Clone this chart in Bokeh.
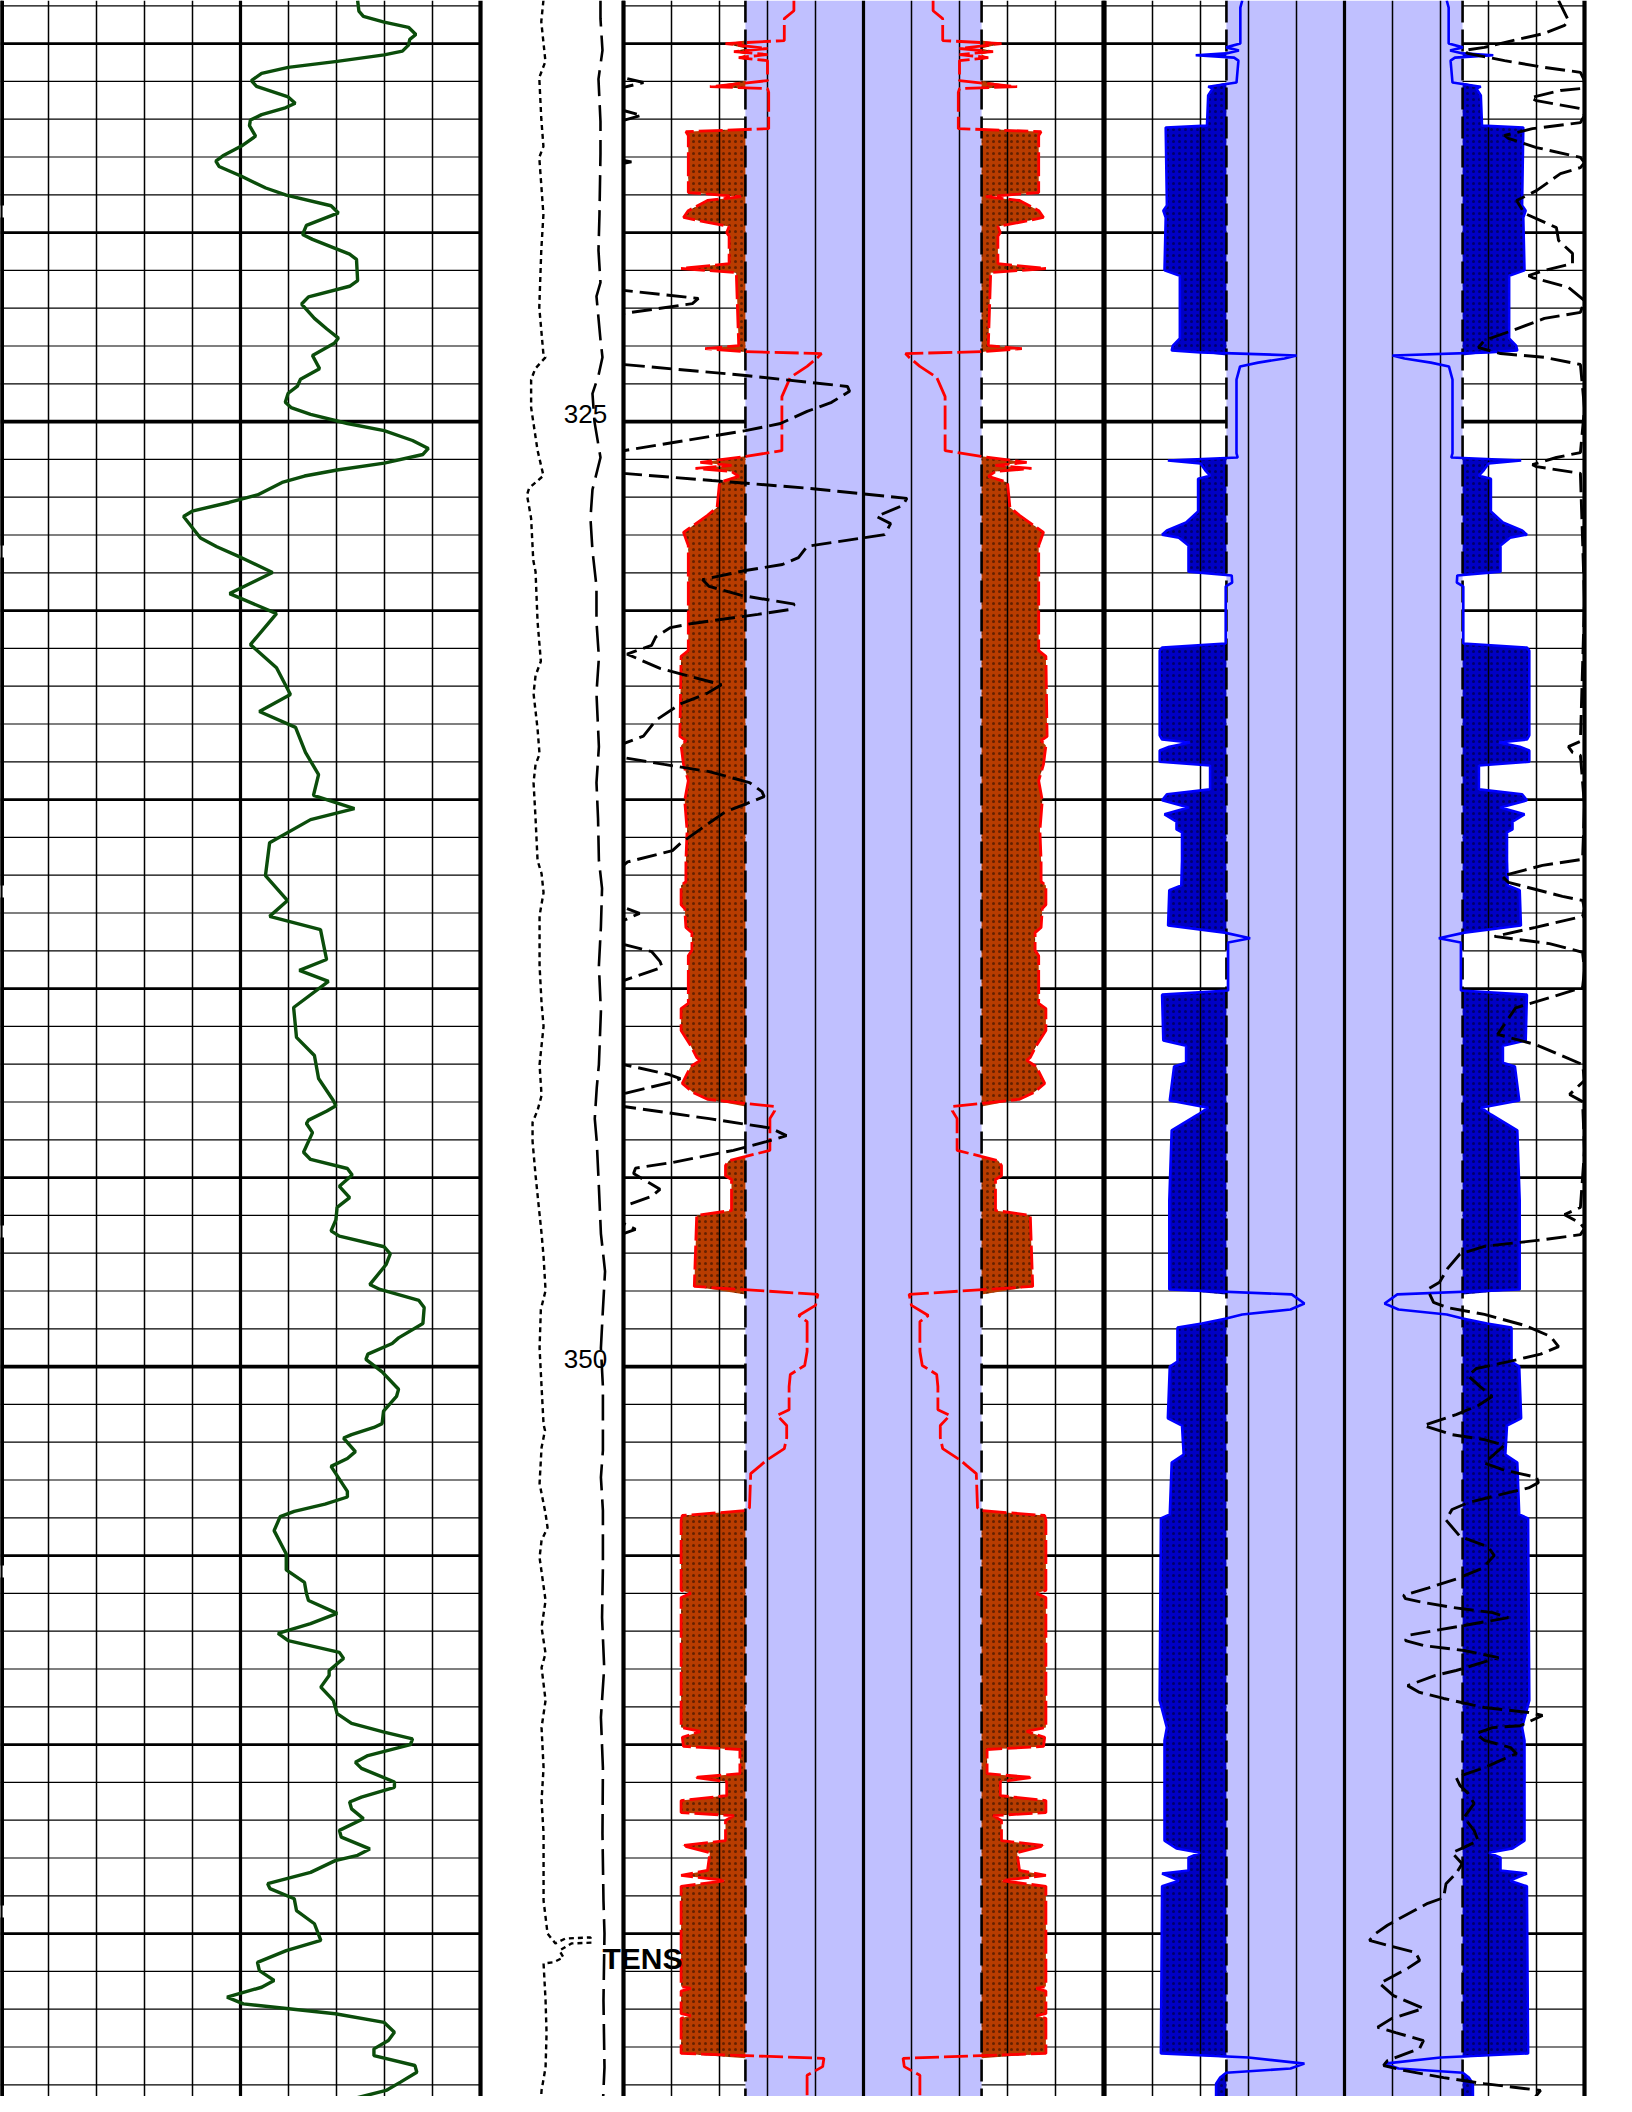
import numpy as np
from bokeh.plotting import figure
from bokeh.models import Range1d
from bokeh.embed import file_html
from bokeh.resources import INLINE
from bokeh.core.properties import value

# ============================ DATA ============================
# Track 1 : gamma ray (0 - 150)
gr_depth = [313.86, 314.14, 314.28, 314.43, 314.57, 314.76, 314.89, 315.04, 315.20, 315.30,
            315.47, 315.63, 315.79, 315.98, 316.13, 316.41, 316.58, 316.71, 316.88, 317.02,
            317.17, 317.45, 317.71, 317.97, 318.11, 318.25, 318.51, 318.82, 319.01, 319.29,
            319.48, 319.81, 320.05, 320.18, 320.57, 320.71, 321.27, 321.42, 321.70, 321.89,
            322.27, 322.55, 322.79, 322.93, 323.25, 323.60, 323.88, 324.06, 324.25, 324.49,
            324.63, 324.81, 325.05, 325.24, 325.50, 325.71, 325.87, 326.10, 326.28, 326.44,
            326.61, 326.94, 327.14, 327.37, 327.51, 327.80, 328.08, 328.31, 328.60, 328.99,
            329.55, 330.08, 330.90, 331.51, 332.22, 332.67, 333.09, 333.75, 334.34, 334.89,
            335.24, 335.53, 336.14, 337.01, 337.67, 338.09, 338.44, 339.23, 339.52, 339.81,
            340.50, 341.29, 341.77, 342.38, 342.96, 343.10, 343.24, 343.48, 343.57, 343.81,
            344.33, 344.52, 344.76, 344.93, 345.23, 345.53, 345.79, 346.12, 346.41, 346.55,
            346.83, 347.02, 347.30, 347.83, 347.96, 348.25, 348.44, 348.86, 349.24, 349.39,
            349.67, 349.81, 350.14, 350.60, 350.79, 351.18, 351.51, 351.61, 351.80, 351.89,
            352.25, 352.43, 352.64, 353.30, 353.45, 353.64, 353.83, 353.97, 354.34, 354.96,
            355.38, 355.71, 356.00, 356.19, 356.53, 356.80, 357.06, 357.25, 357.56, 357.72,
            358.04, 358.17, 358.48, 358.83, 359.18, 359.44, 359.67, 359.85, 360.00, 360.29,
            360.47, 360.63, 360.99, 361.13, 361.39, 361.52, 361.70, 361.96, 362.27, 362.45,
            362.76, 362.93, 363.07, 363.38, 363.68, 363.81, 364.08, 364.39, 364.74, 365.18,
            365.45, 365.76, 365.98, 366.24, 366.42, 366.68, 366.86, 367.12, 367.35, 367.61,
            367.83, 368.05, 368.23, 368.49, 368.67, 368.93, 369.15, 369.46, 369.68]
gr_value = [111.6, 112.0, 113.4, 119.9, 127.5, 129.8, 127.9, 127.5, 125.6, 119.9,
            105.2, 89.9, 81.6, 78.4, 80.0, 89.9, 92.1, 88.7, 81.6, 78.1,
            77.8, 79.7, 75.3, 69.5, 67.3, 68.3, 75.3, 82.9, 89.3, 103.3,
            105.6, 95.6, 94.4, 97.5, 109.1, 111.25, 111.6, 109.1, 96.25, 94.1,
            98.1, 102.0, 105.6, 104.3, 97.5, 99.7, 93.75, 92.8, 89.9, 89.0,
            90.8, 96.9, 108.4, 119.9, 128.75, 133.7, 132.0, 119.9, 105.2, 95.0,
            88.0, 80.3, 71.4, 59.9, 57.2, 59.9, 62.5, 67.6, 75.3, 85.0,
            71.6, 86.25, 78.1, 86.25, 90.6, 80.9, 92.2, 95.3, 99.4, 97.8,
            110.6, 96.9, 84.1, 82.8, 89.7, 84.1, 100.0, 101.9, 93.4, 102.5,
            91.6, 92.5, 98.1, 99.4, 104.0, 104.8, 102.0, 96.25, 95.6, 97.5,
            94.7, 96.9, 108.4, 109.9, 105.9, 109.1, 105.2, 104.8, 103.3, 105.9,
            119.9, 121.8, 120.5, 115.4, 118.6, 130.75, 132.4, 132.0, 124.4, 122.4,
            114.8, 114.2, 119.25, 124.4, 123.75, 119.7, 119.25, 116.7, 109.7, 107.2,
            110.9, 108.4, 103.3, 108.4, 108.4, 101.4, 91.8, 87.4, 85.5, 89.3,
            89.3, 95.0, 95.6, 96.25, 105.2, 96.9, 86.75, 89.9, 105.9, 107.2,
            102.7, 102.7, 100.1, 104.0, 105.2, 109.7, 119.9, 128.75, 128.1, 114.8,
            110.9, 112.8, 123.1, 123.1, 112.8, 109.1, 109.7, 113.4, 105.9, 106.5,
            115.4, 111.6, 104.6, 96.9, 83.5, 84.2, 91.8, 92.5, 98.1, 100.1,
            89.3, 80.3, 80.9, 85.5, 81.6, 70.8, 75.9, 104.6, 119.9, 123.1,
            121.2, 116.7, 116.7, 129.5, 130.1, 125.0, 120.5, 105.9, 102.7]

# Track 1 : a second curve pegged at the left edge of the track
edge_depth = [313.86, 369.73]
edge_value = [0.0, 0.0]

# Track 2 : red curve, radius from the track centre (mirrored image)
t2_depth = [313.86, 314.13, 314.34, 314.92, 315.00, 315.13, 315.21, 315.29, 315.37, 315.45,
            315.98, 316.14, 316.19, 316.29, 317.25, 317.33, 317.43, 318.94, 319.05, 319.15,
            319.42, 319.60, 319.73, 319.84, 320.00, 320.10, 320.82, 320.95, 321.06, 322.99,
            323.07, 323.15, 323.20, 323.30, 323.54, 323.83, 324.34, 325.77, 325.92, 326.08,
            326.16, 326.24, 326.32, 326.45, 326.61, 327.27, 327.48, 327.75, 327.93, 328.28,
            329.18, 331.06, 331.21, 333.33, 333.44, 333.57, 334.07, 334.50, 335.02, 335.82,
            336.61, 337.17, 337.27, 337.78, 337.88, 338.38, 338.52, 338.99, 339.13, 340.39,
            340.53, 341.11, 341.51, 341.82, 341.90, 342.06, 342.51, 342.75, 342.93, 343.12,
            343.23, 343.44, 344.28, 344.44, 344.55, 344.68, 344.95, 345.05, 345.87, 346.00,
            347.88, 348.09, 348.38, 348.65, 348.81, 349.60, 349.97, 350.21, 350.53, 351.14,
            351.29, 351.56, 351.88, 352.17, 352.48, 352.62, 352.83, 353.73, 353.81, 353.94,
            354.07, 355.92, 356.00, 356.11, 359.55, 359.65, 359.81, 360.05, 360.13, 360.77,
            360.87, 360.98, 361.35, 361.48, 361.80, 361.88, 362.01, 362.54, 362.67, 362.86,
            363.33, 363.46, 363.60, 363.75, 366.40, 366.45, 366.52, 367.12, 367.17, 367.24,
            368.17, 368.30, 368.52, 368.75, 369.73]
t2_radius = [2.9, 2.9, 3.3, 3.3, 5.75, 4.0, 5.4, 4.0, 5.2, 4.0,
             4.0, 6.4, 4.0, 3.95, 3.95, 7.4, 7.3, 7.3, 5.1, 6.5,
             7.3, 7.5, 6.5, 5.6, 5.7, 5.6, 5.6, 7.6, 5.3, 5.2,
             6.6, 5.0, 1.75, 1.9, 2.35, 3.05, 3.4, 3.4, 4.9, 6.8,
             5.5, 7.0, 5.5, 5.2, 6.0, 6.1, 6.5, 7.1, 7.5, 7.3,
             7.3, 7.3, 7.6, 7.65, 7.4, 7.6, 7.5, 7.3, 7.45, 7.35,
             7.4, 7.4, 7.6, 7.6, 7.45, 7.4, 7.15, 7.15, 7.3, 7.3,
             7.6, 7.6, 7.2, 6.95, 6.8, 7.2, 7.55, 7.1, 6.5, 3.7,
             3.7, 3.9, 3.9, 4.9, 5.6, 5.75, 5.75, 5.5, 5.5, 6.95,
             7.05, 1.9, 2.0, 2.7, 2.35, 2.35, 2.45, 3.05, 3.1, 3.1,
             3.6, 3.2, 3.2, 3.3, 4.05, 4.3, 4.7, 4.75, 4.9, 7.55,
             7.6, 7.6, 7.2, 7.6, 7.6, 6.8, 7.55, 7.5, 5.15, 5.15,
             7.05, 5.7, 5.7, 7.6, 7.6, 5.4, 5.75, 5.75, 7.55, 6.4,
             6.5, 7.6, 5.75, 7.6, 7.6, 7.2, 7.6, 7.6, 7.2, 7.6,
             7.6, 1.65, 1.7, 2.35, 2.35]

# Track 2 : black dashed curve
t2_dash_depth = [313.86, 315.90, 316.03, 316.16, 316.77, 316.90, 317.03, 318.09, 318.13, 318.17,
                 321.53, 321.74, 321.88, 322.14, 323.49, 323.78, 324.07, 324.20, 324.49, 324.73,
                 325.05, 325.24, 325.47, 325.77, 326.37, 326.56, 326.76, 327.03, 327.22, 327.51,
                 327.70, 327.99, 328.30, 328.60, 328.78, 328.94, 329.18, 329.36, 329.60, 329.83,
                 329.97, 330.10, 330.34, 330.45, 330.69, 330.92, 331.15, 331.53, 331.96, 332.19,
                 332.47, 332.90, 333.32, 333.52, 333.89, 334.07, 334.26, 334.55, 334.79, 334.92,
                 335.12, 335.32, 335.78, 336.16, 336.35, 336.65, 336.74, 337.85, 338.01, 338.15,
                 338.20, 338.83, 339.02, 339.28, 339.44, 339.57, 339.79, 342.01, 342.27, 342.38,
                 342.47, 342.78, 343.12, 343.44, 343.69, 343.89, 344.05, 344.28, 344.60, 344.75,
                 344.89, 345.05, 345.31, 345.50, 345.76, 346.21, 346.37, 346.48, 369.73]
t2_dash_value = [-10.0, -10.0, -9.17, -10.0, -10.0, -9.25, -10.0, -10.0, -9.67, -10.0,
                 -10.0, -6.88, -7.13, -10.0, -10.0, -4.92, -0.67, -0.58, -1.33, -2.35,
                 -3.46, -4.92, -7.13, -10.0, -10.0, -6.31, -2.35, 1.81, 1.63, 0.54,
                 1.13, 0.88, -2.35, -2.71, -3.38, -4.92, -6.71, -6.43, -5.08, -2.88,
                 -3.04, -4.40, -7.13, -8.04, -8.65, -8.83, -9.85, -8.48, -5.92, -6.52,
                 -7.63, -8.65, -9.17, -10.0, -10.0, -8.30, -6.43, -4.75, -4.23, -4.14,
                 -4.92, -5.75, -6.79, -7.63, -7.96, -9.83, -10.0, -10.0, -9.33, -9.83,
                 -10.0, -10.0, -8.83, -8.48, -8.39, -9.0, -10.0, -10.0, -8.13, -7.63,
                 -7.96, -10.0, -10.0, -6.43, -3.88, -3.21, -4.05, -5.42, -7.96, -9.5,
                 -9.58, -9.17, -8.48, -8.83, -10.0, -10.0, -9.5, -10.0, -10.0]

# Track 3 : blue curve, radius from the track centre (mirrored image)
t3_depth = [313.86, 314.05, 315.00, 315.10, 315.18, 315.26, 315.31, 315.37, 315.45, 316.03,
            316.14, 316.19, 316.37, 317.17, 317.22, 319.28, 319.42, 319.60, 321.00, 321.14,
            322.80, 322.99, 323.12, 323.17, 323.25, 323.33, 323.44, 323.54, 323.89, 325.84,
            325.95, 326.03, 326.11, 326.29, 326.43, 326.51, 327.38, 327.67, 327.88, 327.99,
            328.07, 328.28, 328.97, 329.07, 329.26, 329.36, 330.87, 330.98, 331.06, 333.30,
            333.41, 333.49, 333.60, 333.70, 334.00, 334.10, 334.73, 334.86, 335.02, 335.21,
            335.39, 335.58, 335.79, 335.87, 336.61, 337.27, 337.40, 338.33, 338.52, 338.67,
            338.78, 340.05, 340.16, 341.37, 341.51, 341.96, 342.06, 342.96, 343.15, 343.33,
            343.75, 345.61, 347.96, 348.09, 348.33, 348.49, 348.62, 348.73, 348.86, 348.97,
            349.87, 350.00, 351.37, 351.56, 352.33, 352.54, 353.91, 354.02, 358.83, 359.55,
            359.89, 362.54, 362.75, 362.86, 362.99, 363.33, 363.41, 363.60, 363.75, 368.17,
            368.28, 368.44, 368.57, 368.68, 368.81, 368.97, 369.73]
t3_radius = [4.26, 4.34, 4.34, 4.93, 4.4, 4.93, 6.2, 4.6, 4.42, 4.5,
             5.68, 5.5, 5.68, 5.73, 7.45, 7.4, 7.55, 7.45, 7.5, 6.86,
             6.86, 7.15, 7.2, 6.0, 2.0, 2.5, 3.6, 4.35, 4.5, 4.5,
             4.45, 7.36, 6.0, 5.8, 5.6, 6.1, 6.1, 6.6, 7.4, 7.6,
             6.9, 6.5, 6.5, 4.7, 4.68, 4.95, 4.95, 7.6, 7.7, 7.7,
             7.6, 6.44, 7.3, 7.7, 7.7, 5.6, 5.6, 7.4, 7.6, 6.5,
             7.5, 7.0, 7.0, 6.77, 6.77, 6.8, 7.3, 7.35, 5.0, 3.93,
             4.85, 4.85, 7.6, 7.55, 6.6, 6.6, 7.1, 7.28, 5.68, 6.1,
             7.2, 7.3, 7.3, 2.2, 1.67, 2.25, 4.26, 4.93, 5.94, 6.96,
             6.96, 7.28, 7.36, 6.77, 6.7, 7.2, 7.28, 7.65, 7.7, 7.4,
             7.5, 7.5, 7.0, 6.02, 6.5, 6.5, 7.6, 6.9, 7.6, 7.65,
             4.0, 1.67, 2.25, 4.93, 5.18, 5.35, 5.35]

# Track 3 : black dashed curve (runs past the right edge where > 10)
t3_dash_depth = [313.86, 314.39, 314.52, 314.73, 314.92, 315.10, 315.18, 315.26, 315.45, 315.63,
                 315.76, 315.98, 316.19, 316.24, 316.43, 316.51, 316.72, 316.90, 317.09, 317.25,
                 317.43, 317.51, 317.75, 318.01, 318.15, 318.28, 318.44, 318.89, 319.15, 319.49,
                 319.87, 320.21, 320.55, 320.82, 321.00, 321.14, 321.19, 321.45, 321.80, 322.11,
                 322.27, 322.59, 322.85, 323.04, 323.20, 323.30, 323.49, 324.65, 325.82, 325.95,
                 326.14, 326.19, 326.37, 329.73, 333.46, 333.60, 333.75, 333.83, 335.16, 336.58,
                 336.74, 337.02, 337.19, 337.56, 337.67, 337.88, 338.09, 338.38, 338.62, 338.81,
                 338.99, 339.04, 339.52, 339.97, 340.24, 340.51, 341.21, 341.48, 342.01, 342.43,
                 342.80, 342.99, 344.28, 345.79, 345.98, 346.21, 346.35, 346.51, 346.64, 346.82,
                 347.02, 347.41, 347.77, 347.96, 348.30, 348.44, 348.62, 348.91, 349.20, 349.47,
                 349.67, 349.87, 350.05, 350.24, 350.53, 350.79, 351.03, 351.27, 351.56, 351.80,
                 351.93, 352.08, 352.32, 352.55, 352.74, 352.93, 353.07, 353.21, 353.36, 353.60,
                 353.78, 354.06, 354.49, 354.77, 355.00, 355.34, 355.62, 355.86, 356.05, 356.14,
                 356.24, 356.37, 356.51, 356.64, 356.85, 357.11, 357.25, 357.38, 357.51, 357.70,
                 358.04, 358.17, 358.44, 358.62, 358.78, 359.02, 359.15, 359.23, 359.50, 359.55,
                 359.71, 359.89, 360.08, 360.24, 360.37, 360.61, 360.87, 361.08, 361.29, 361.56,
                 361.93, 362.27, 362.54, 362.72, 362.86, 363.15, 363.41, 363.68, 364.05, 364.20,
                 364.60, 364.78, 365.00, 365.18, 365.31, 365.50, 365.71, 365.92, 366.32, 366.64,
                 366.98, 367.25, 367.48, 367.62, 367.83, 368.04, 368.36, 368.49, 368.62, 368.81,
                 368.97, 369.15, 369.42, 369.63, 369.73]
t3_dash_value = [8.92, 9.33, 9.17, 8.33, 7.0, 5.83, 4.98, 5.13, 6.67, 8.33,
                 9.83, 11.0, 9.83, 9.0, 7.75, 8.0, 9.83, 11.0, 9.83, 7.83,
                 6.67, 6.83, 8.0, 9.83, 11.0, 9.83, 9.0, 8.0, 7.17, 7.5,
                 8.83, 8.92, 9.5, 9.5, 8.33, 7.67, 7.83, 9.33, 10.8, 9.83,
                 8.33, 7.0, 5.83, 5.58, 6.5, 8.33, 9.83, 13.0, 9.83, 8.83,
                 7.83, 8.0, 9.83, 13.0, 9.83, 9.33, 9.5, 9.83, 12.0, 9.92,
                 8.25, 6.56, 6.83, 9.08, 9.92, 10.5, 9.92, 7.96, 6.25, 8.54,
                 9.63, 9.92, 11.0, 9.92, 8.54, 7.13, 6.38, 7.96, 9.92, 10.8,
                 9.38, 9.92, 11.0, 9.83, 9.17, 9.83, 10.5, 9.83, 8.33, 5.83,
                 4.81, 4.29, 3.96, 3.46, 3.71, 4.29, 5.83, 7.5, 8.58, 8.92,
                 8.17, 6.83, 5.5, 5.15, 5.65, 6.15, 5.57, 4.65, 3.29, 4.48,
                 5.82, 6.66, 6.24, 5.82, 6.66, 8.0, 8.08, 7.67, 6.66, 5.15,
                 4.48, 4.23, 4.81, 5.99, 6.24, 5.74, 4.65, 3.47, 2.46, 2.54,
                 3.29, 4.48, 6.17, 6.83, 4.98, 2.63, 2.54, 3.29, 4.98, 6.42,
                 4.65, 3.79, 2.63, 3.13, 4.13, 5.83, 7.67, 8.25, 7.33, 6.17,
                 5.48, 5.83, 6.92, 7.17, 6.67, 5.83, 4.65, 4.81, 5.15, 5.4,
                 4.98, 5.4, 5.57, 4.98, 4.48, 4.9, 4.65, 4.23, 4.13, 3.47,
                 2.29, 1.79, 1.29, 1.04, 1.79, 2.96, 3.13, 2.63, 1.46, 2.04,
                 3.29, 1.96, 1.38, 2.13, 3.29, 3.13, 1.79, 1.63, 2.46, 4.13,
                 5.82, 8.17, 7.83, 6.67, 6.33]

# Depth track : TENS (dotted) and a second long-dashed curve
tens_depth = [313.86, 314.42, 315.47, 315.90, 316.98, 317.72, 318.01, 319.52, 320.47, 321.98,
              323.22, 323.30, 323.60, 323.89, 324.63, 325.76, 326.43, 326.76, 326.94, 327.56,
              328.67, 328.97, 330.29, 331.34, 331.72, 332.19, 333.13, 333.80, 334.07, 334.55,
              335.50, 336.61, 336.96, 337.46, 338.07, 339.39, 340.39, 341.00, 342.01, 342.83,
              343.22, 343.54, 344.04, 344.94, 345.97, 346.48, 347.09, 347.99, 348.49, 349.51,
              350.53, 351.53, 351.69, 352.14, 353.09, 353.89, 354.26, 354.60, 355.05, 356.19,
              356.90, 357.59, 357.96, 358.83, 359.55, 360.61, 361.48, 362.35, 364.13, 365.00,
              365.26, 365.13, 365.10, 365.24, 365.26, 365.45, 365.63, 365.76, 365.79, 366.77,
              367.64, 368.54, 369.15, 369.73]
tens_value = [44.0, 42.5, 45.4, 41.1, 42.5, 44.0, 41.1, 44.0, 42.5, 41.1,
              44.0, 45.4, 38.3, 35.4, 35.4, 39.9, 44.0, 34.0, 32.5, 35.4,
              36.9, 38.5, 39.9, 42.2, 38.5, 37.1, 39.9, 41.3, 38.5, 37.1,
              38.5, 39.9, 42.7, 44.1, 41.3, 41.3, 42.7, 44.1, 41.3, 42.7,
              39.9, 36.4, 36.4, 38.5, 41.3, 42.7, 44.1, 45.5, 42.2, 41.3,
              42.7, 44.1, 45.1, 42.7, 41.3, 45.5, 46.9, 42.7, 41.3, 45.5,
              42.7, 45.5, 42.7, 45.5, 42.7, 44.1, 42.7, 44.1, 44.1, 46.9,
              52.4, 59.4, 76.9, 77.6, 63.6, 55.2, 58.0, 51.0, 44.1, 45.5,
              46.2, 45.5, 42.7, 41.7]
aux_depth = [313.86, 314.34, 315.18, 315.94, 317.06, 317.92, 319.52, 320.47, 321.32, 321.69,
             322.83, 323.30, 323.78, 324.26, 325.00, 325.95, 326.80, 327.56, 328.41, 329.36,
             330.29, 331.24, 332.19, 333.60, 334.55, 335.50, 336.61, 337.35, 338.37, 339.39,
             340.60, 342.01, 342.62, 343.44, 344.05, 345.26, 346.48, 347.48, 348.49, 349.51,
             350.53, 352.22, 352.93, 353.81, 355.31, 356.64, 357.96, 358.83, 359.28, 360.61,
             362.35, 364.13, 365.00, 366.77, 368.54, 369.73]
aux_value = [83.9, 83.9, 85.3, 82.5, 83.9, 83.9, 83.2, 82.5, 83.9, 81.1,
             83.9, 85.3, 82.5, 78.3, 79.7, 83.9, 78.3, 76.9, 78.3, 81.1,
             81.1, 82.8, 81.1, 82.8, 81.1, 82.2, 82.8, 85.0, 84.2, 82.8,
             84.2, 82.8, 81.3, 79.9, 81.3, 82.8, 84.2, 87.1, 85.6, 84.2,
             85.6, 85.6, 84.2, 85.6, 85.6, 85.0, 86.5, 85.0, 84.2, 85.6,
             85.3, 86.0, 86.7, 86.0, 86.7, 85.3]

TENS_LABEL_DEPTH = 365.65
BORE_RADIUS = 4.92          # inner (shaded) band half-width, tracks 2 & 3
TOP_DEPTH, BOTTOM_DEPTH = 313.86, 369.31

# ============================ LAYOUT ============================
PAGE_W, PAGE_H = 1616, 2096
FRAME_X0, FRAME_X1 = 0, 1616          # page pixels covered by the frame
TRACKS = {                              # value range -> page pixel span
    "default": (0.0, 150.0, 0, 480),
    "depth": (0.0, 100.0, 480, 623),
    "t2": (-10.0, 10.0, 623, 1103),
    "t3": (-10.0, 10.0, 1104, 1584),
}


def track_range(v0, v1, px0, px1):
    s = (v1 - v0) / (px1 - px0)
    return Range1d(v0 - (px0 - FRAME_X0) * s, v1 + (FRAME_X1 - px1) * s)


p = figure(width=PAGE_W, height=PAGE_H, output_backend="svg", toolbar_location=None,
           x_range=track_range(*TRACKS["default"]),
           y_range=Range1d(BOTTOM_DEPTH, TOP_DEPTH),
           x_axis_location=None, y_axis_location=None, min_border=0)
p.extra_x_ranges = {k: track_range(*v) for k, v in TRACKS.items() if k != "default"}
p.grid.visible = False
p.outline_line_color = None
p.background_fill_color = "white"
p.border_fill_color = "white"

LAVENDER = "#C0C0FF"
BROWN = "#B83C00"
DARKBLUE = "#0000C4"

# ---- horizontal grid (drawn first, fills cover it) ----
hdepths = np.arange(np.ceil(TOP_DEPTH), np.floor(BOTTOM_DEPTH) + 1)
major = (hdepths % 25 == 0)
bold = (hdepths % 5 == 0) & ~major
minor = ~(major | bold)
for name in ("default", "t2", "t3"):
    v0, v1 = TRACKS[name][0], TRACKS[name][1]
    for sel, lw in ((minor, 1.2), (bold, 2.6), (major, 3.6)):
        ys = hdepths[sel]
        p.segment(x0=[v0] * len(ys), x1=[v1] * len(ys), y0=ys, y1=ys,
                  line_color="black", line_width=lw, x_range_name=name)

# ---- shaded inner band ----
for name in ("t2", "t3"):
    p.quad(left=[-BORE_RADIUS], right=[BORE_RADIUS], top=[TOP_DEPTH], bottom=[BOTTOM_DEPTH],
           fill_color=LAVENDER, line_color=None, x_range_name=name)

# ---- fills outside the band ----
for name, dep, rad, col in (("t2", t2_depth, t2_radius, BROWN), ("t3", t3_depth, t3_radius, DARKBLUE)):
    r = np.maximum(np.array(rad), BORE_RADIUS)
    inner = np.full(len(r), BORE_RADIUS)
    for sgn in (-1, 1):
        p.harea(y=dep, x1=sgn * inner, x2=sgn * r, fill_color=col,
                hatch_pattern="dot", hatch_color="black", hatch_scale=6, hatch_weight=1,
                hatch_alpha=0.45, x_range_name=name)

# ---- vertical grid ----
for name in ("default", "t2", "t3"):
    v0, v1 = TRACKS[name][0], TRACKS[name][1]
    xs = np.linspace(v0, v1, 11)
    widths = [4.2 if i in (0, 10) else (3.2 if i == 5 else 1.5) for i in range(11)]
    p.segment(x0=xs, x1=xs, y0=[TOP_DEPTH] * 11, y1=[BOTTOM_DEPTH] * 11,
              line_color="black", line_width=widths, x_range_name=name)

# ---- curve pegged on the left edge of track 1 (long dashes) ----
p.line(x=edge_value, y=edge_depth, line_color="black", line_width=7,
       line_dash="328 12", line_dash_offset=123)

# ---- band edges (dashed) ----
for name in ("t2", "t3"):
    p.segment(x0=[-BORE_RADIUS, BORE_RADIUS], x1=[-BORE_RADIUS, BORE_RADIUS],
              y0=[TOP_DEPTH] * 2, y1=[BOTTOM_DEPTH] * 2, line_color="black",
              line_width=2.6, line_dash="22 7", x_range_name=name)

# ---- mirrored curves ----
t2r = np.array(t2_radius)
t3r = np.array(t3_radius)
for sgn in (-1, 1):
    p.line(x=sgn * t2r, y=t2_depth, line_color="#FF0000", line_width=2.8,
           line_dash="24 5", x_range_name="t2")
    p.line(x=sgn * t3r, y=t3_depth, line_color="#0000FF", line_width=2.6,
           x_range_name="t3")

# ---- dashed curves in tracks 2 and 3 ----
p.line(x=np.clip(t2_dash_value, -10, 10), y=t2_dash_depth, line_color="black",
       line_width=2.9, line_dash="20 7", x_range_name="t2")
p.line(x=np.clip(t3_dash_value, -10, 10), y=t3_dash_depth, line_color="black",
       line_width=2.9, line_dash="20 7", x_range_name="t3")

# ---- gamma ray ----
p.line(x=gr_value, y=gr_depth, line_color="#0B4D0B", line_width=3.4)

# ---- depth track ----
p.line(x=tens_value, y=tens_depth, line_color="black", line_width=2.4, line_dash="5 4",
       x_range_name="depth")
p.line(x=aux_value, y=aux_depth, line_color="black", line_width=2.6, line_dash="26 9",
       x_range_name="depth")

label_depths = [d for d in range(int(np.ceil(TOP_DEPTH / 25)) * 25, int(BOTTOM_DEPTH) + 1, 25)]
p.text(x=[73.4] * len(label_depths), y=[d - 0.2 for d in label_depths],
       text=[str(d) for d in label_depths], text_font=value("Liberation Sans"),
       text_font_size="26px", text_align="center", text_baseline="middle",
       text_color="black", x_range_name="depth")
p.text(x=[85.3], y=[TENS_LABEL_DEPTH], text=["TENS"], text_font=value("Liberation Sans"),
       text_font_size="30px", text_font_style="bold", text_align="left",
       text_baseline="middle", text_color="black", x_range_name="depth")

open("out.html", "w").write(file_html(p, INLINE))
